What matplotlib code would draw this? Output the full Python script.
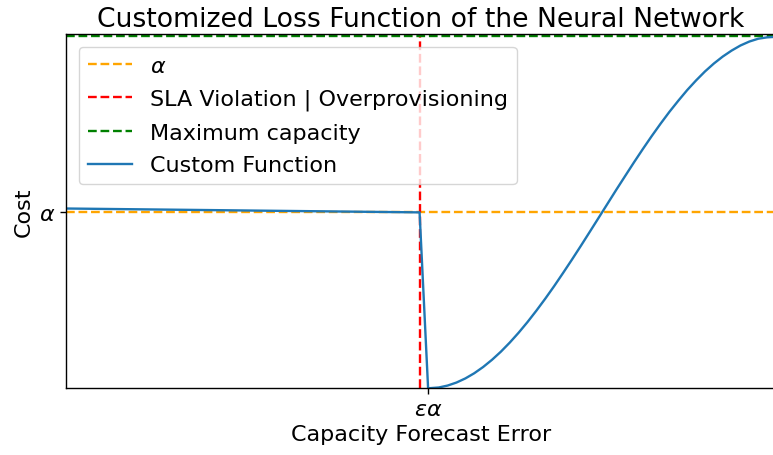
import matplotlib
matplotlib.use("Agg")
import matplotlib.pyplot as plt

# Data
x_left = [-1.0, -0.004]
y_left = [0.511, 0.5]
x_drop = [-0.004, 0.02]
y_drop = [0.5, 0.0]
x_right = [0.02, 0.05, 0.075, 0.10, 0.125, 0.15, 0.175, 0.20, 0.225, 0.25, 0.275,
           0.30, 0.325, 0.35, 0.375, 0.40, 0.425, 0.45, 0.475, 0.50, 0.525,
           0.55, 0.575, 0.60, 0.625, 0.65, 0.675, 0.70, 0.725, 0.75, 0.775,
           0.80, 0.825, 0.85, 0.875, 0.90, 0.925, 0.95, 0.975, 1.00]
y_right = [0.0, 0.0023, 0.0078, 0.0164, 0.0281, 0.0428, 0.0605, 0.0810, 0.1041,
           0.1299, 0.1580, 0.1883, 0.2207, 0.2547, 0.2903, 0.3275, 0.3655,
           0.4044, 0.4441, 0.4840, 0.5240, 0.5641, 0.6033, 0.6423, 0.6802,
           0.7170, 0.7523, 0.7861, 0.8176, 0.8478, 0.8752, 0.9006, 0.9231,
           0.9429, 0.9599, 0.9744, 0.9856, 0.9936, 0.9975, 0.999]
alpha_level = 0.5
max_capacity = 1.0
sla_x = -0.004
eps_alpha = 0.02

xs = x_left + x_drop[1:] + x_right[1:]
ys = y_left + y_drop[1:] + y_right[1:]

plt.rcParams["axes.linewidth"] = 1.0
plt.rcParams["xtick.major.width"] = 1.0
plt.rcParams["ytick.major.width"] = 1.0
plt.rcParams["xtick.major.size"] = 4
plt.rcParams["ytick.major.size"] = 4
plt.rcParams["lines.linewidth"] = 1.7

fig = plt.figure(figsize=(7.73, 4.56), dpi=100)
ax = fig.add_axes([66/773, (456-389.3)/456, (776-66)/773, (389.3-35)/456])

ax.axhline(alpha_level, color="orange", linestyle="--", label=r"$\alpha$")
ax.axvline(sla_x, color="red", linestyle="--", label="SLA Violation | Overprovisioning")
ax.axhline(max_capacity, color="green", linestyle="--", label="Maximum capacity")
ax.plot(xs, ys, color="#1f77b4", label="Custom Function")

ax.set_xlim(-1.0, 1.0)
ax.set_ylim(0, 1.007)
ax.set_xticks([eps_alpha])
ax.set_xticklabels([r"$\varepsilon\alpha$"], fontsize=16)
ax.set_yticks([alpha_level])
ax.set_yticklabels([r"$\alpha$"], fontsize=16)
ax.set_xlabel("Capacity Forecast Error", fontsize=16)
ax.set_ylabel("Cost", fontsize=16)
ax.set_title("Customized Loss Function of the Neural Network", fontsize=19.2)
ax.legend(loc="upper left", fontsize=16, labelspacing=0.575, borderaxespad=0.57)

fig.savefig("out.png", dpi=100)
